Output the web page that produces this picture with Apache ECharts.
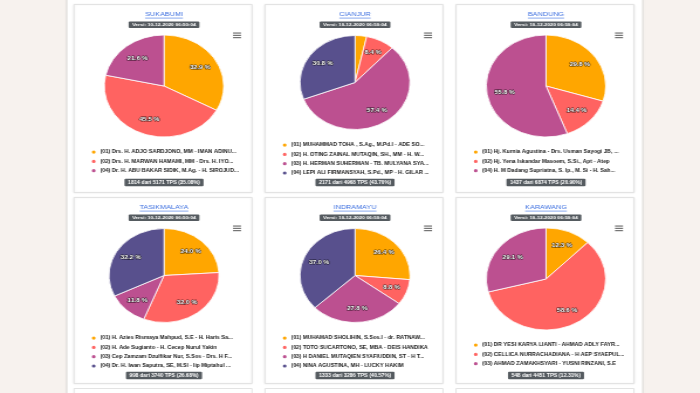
<!DOCTYPE html>
<html><head><meta charset="utf-8">
<script src="https://cdn.jsdelivr.net/npm/echarts@6/dist/echarts.min.js"></script>
<style>
html,body{margin:0;padding:0;background:#f7f2ee;overflow:hidden;width:700px;height:393px}
#c{width:598px;height:393px;transform:scaleX(1.170569);transform-origin:0 0}
</style>
</head><body><div id="c"></div><script>
// ---- data ----
const regionNames = ['SUKABUMI', 'CIANJUR', 'BANDUNG', 'TASIKMALAYA', 'INDRAMAYU', 'KARAWANG'];
const versionLabel = 'Versi: 10-12-2020 06:50:04';

const sukabumiCandidates = [
  '(01) Drs. H. ADJO SARDJONO, MM - IMAN ADINU...',
  '(02) Drs. H. MARWAN HAMAMI, MM - Drs. H. IYO...',
  '(04) Dr. H. ABU BAKAR SIDIK, M.Ag. - H. SIROJUD...'
];
const sukabumiShares = [32.9, 45.5, 21.6];

const cianjurCandidates = [
  '(01) MUHAMMAD TOHA , S.Ag., M.Pd.I - ADE SO...',
  '(02) H. OTING ZAINAL MUTAQIN, SH., MM - H. W...',
  '(03) H. HERMAN SUHERMAN - TB. MULYANA SYA...',
  '(04) LEPI ALI FIRMANSYAH, S.Pd., MP - H. GILAR ...'
];
const cianjurShares = [3.4, 8.4, 57.4, 30.8];

const bandungCandidates = [
  '(01) Hj. Kurnia Agustina - Drs. Usman Sayogi JB, ...',
  '(02) Hj. Yena Iskandar Masoem, S.Si., Apt - Atep',
  '(04) H. M Dadang Supriatna, S. Ip., M. Si - H. Sah...'
];
const bandungShares = [29.8, 14.4, 55.8];

const tasikmalayaCandidates = [
  '(01) H. Azies Rismaya Mahpud, S.E - H. Haris Sa...',
  '(02) H. Ade Sugianto - H. Cecep Nurul Yakin',
  '(03) Cep Zamzam Dzulfikar Nur, S.Sos - Drs. H F...',
  '(04) Dr. H. Iwan Saputra, SE, M.SI - Iip Miptahul ...'
];
const tasikmalayaShares = [24.0, 32.0, 11.8, 32.2];

const indramayuCandidates = [
  '(01) MUHAMAD SHOLIHIN, S.Sos.I - dr. RATNAW...',
  '(02) TOTO SUCARTONO, SE, MBA - DEIS HANDIKA',
  '(03) H DANIEL MUTAQIEN SYAFIUDDIN, ST - H T...',
  '(04) NINA AGUSTINA, MH - LUCKY HAKIM'
];
const indramayuShares = [26.4, 8.8, 27.8, 37.0];

const karawangCandidates = [
  '(01) DR YESI KARYA LIANTI - AHMAD ADLY FAYR...',
  '(02) CELLICA NURRACHADIANA - H AEP SYAEPUL...',
  '(03) AHMAD ZAMAKHSYARI - YUSNI RINZANI, S.E'
];
const karawangShares = [12.3, 58.6, 29.1];

const tpsLabels = [
  '1814 dari 5171 TPS (35.08%)',
  '2171 dari 4968 TPS (43.70%)',
  '1437 dari 6874 TPS (20.90%)',
  '998 dari 3740 TPS (26.68%)',
  '1333 dari 3286 TPS (40.57%)',
  '548 dari 4451 TPS (12.31%)'
];

const palette = ['#ffa600', '#ff6361', '#bc5090', '#58508d'];

// ---- layout ----
const S = 700 / 598;
const X = v => v / S;
const colLefts = [74, 265, 456];
const rowTops = [4, 197];
const rowHeights = [188, 186];
const cardW = 178;
const FONT = '"Liberation Sans", Arial, sans-serif';
const minLabelShare = 5; // very thin slices carry no label

const candidateLists = [sukabumiCandidates, cianjurCandidates, bandungCandidates, tasikmalayaCandidates, indramayuCandidates, karawangCandidates];
const shareLists = [sukabumiShares, cianjurShares, bandungShares, tasikmalayaShares, indramayuShares, karawangShares];

const measureCtx = document.createElement('canvas').getContext('2d');
function textWidth(t, font) { measureCtx.font = font; return measureCtx.measureText(t).width; }

const graphics = [];
// page frame
graphics.push({type: 'rect', shape: {x: X(67), y: 0, width: X(577), height: 393}, style: {fill: '#ffffff'}, z: -10});
graphics.push({type: 'rect', shape: {x: X(65.5), y: 0, width: X(2), height: 393}, style: {fill: '#e6e3e0'}, z: -9});
graphics.push({type: 'rect', shape: {x: X(642), y: 0, width: X(2), height: 393}, style: {fill: '#e6e3e0'}, z: -9});
// third-row card tops
colLefts.forEach(L => {
  graphics.push({type: 'rect', shape: {x: X(L), y: 388.5, width: X(cardW), height: 20}, style: {fill: '#fff', stroke: '#e3e3e3', lineWidth: 1}, z: -8});
});

const legends = [];
const series = [];

regionNames.forEach((name, i) => {
  const col = i % 3, row = Math.floor(i / 3);
  const L = colLefts[col], T = rowTops[row];
  const names = candidateLists[i], vals = shareLists[i];
  const n = names.length;
  const cx = X(L + 90);
  const cy = T + (n === 4 ? 78.5 : 82);

  // card
  graphics.push({type: 'rect', shape: {x: X(L), y: T + 0.5, width: X(cardW), height: rowHeights[row]},
    style: {fill: '#fff', stroke: '#e3e3e3', lineWidth: 1, shadowBlur: 2, shadowColor: 'rgba(0,0,0,0.06)'}, z: -8});
  // title
  const tFont = '6.2px ' + FONT;
  graphics.push({type: 'text', x: cx, y: T + 10.5, style: {text: name, font: tFont, fill: '#3b6ee0', align: 'center', verticalAlign: 'middle'}, z: 5});
  const tw = textWidth(name, tFont);
  graphics.push({type: 'line', shape: {x1: cx - tw / 2, y1: T + 14.1, x2: cx + tw / 2, y2: T + 14.1}, style: {stroke: '#3b6ee0', lineWidth: 0.6}, z: 5});
  // version badge
  graphics.push({type: 'text', x: cx, y: T + 20.8, style: {text: versionLabel, font: 'bold 4.4px ' + FONT, fill: '#fff',
    align: 'center', verticalAlign: 'middle', backgroundColor: '#555b60', padding: [1.4, 3, 1.2, 3], borderRadius: 1}, z: 5});
  // tps badge
  graphics.push({type: 'text', x: cx, y: T + 178.5, style: {text: tpsLabels[i], font: 'bold 4.6px ' + FONT, fill: '#fff',
    align: 'center', verticalAlign: 'middle', backgroundColor: '#555b60', padding: [1.4, 3, 1.2, 3], borderRadius: 1}, z: 5});
  // menu icon
  for (let k = 0; k < 3; k++) {
    graphics.push({type: 'rect', shape: {x: X(L + 159), y: T + 28.5 + k * 2.3, width: X(8), height: 1.1}, style: {fill: '#666'}, z: 5});
  }

  legends.push({
    orient: 'vertical',
    left: X(L + 15.5),
    top: T + (n === 4 ? 137.5 : 144.5),
    padding: 0,
    itemWidth: 5.2, itemHeight: 5.2, itemGap: 2.1,
    icon: 'circle',
    selectedMode: false,
    data: names,
    textStyle: {fontSize: 4.8, fontWeight: 'bold', color: '#222', fontFamily: FONT, lineHeight: 5.2, padding: [0, 0, 0, -2]}
  });

  series.push({
    type: 'pie',
    name: name,
    center: [cx, cy],
    radius: [0, n === 4 ? 47 : 51],
    startAngle: 90,
    clockwise: true,
    silent: true,
    animation: false,
    itemStyle: {borderColor: '#fff', borderWidth: 0.8},
    label: {
      show: true, position: 'inside',
      formatter: p => p.value.toFixed(1) + ' %',
      color: '#fff', fontSize: 5.6, fontWeight: 'bold', fontFamily: FONT,
      textBorderColor: 'rgba(0,0,0,0.75)', textBorderWidth: 1
    },
    // push inside labels out to ~0.63 of the radius, as in the reference
    labelLayout: p => {
      const r = p.labelRect;
      const lx = r.x + r.width / 2, ly = r.y + r.height / 2;
      return {dx: (lx - cx) * 0.26, dy: (ly - cy) * 0.26};
    },
    labelLine: {show: false},
    data: names.map((nm, k) => ({
      name: nm, value: vals[k],
      itemStyle: {color: palette[k]},
      label: {show: vals[k] >= minLabelShare}
    }))
  });
});

const chart = echarts.init(document.getElementById('c'), null, {renderer: 'canvas'});
chart.setOption({
  animation: false,
  backgroundColor: '#f7f2ee',
  color: palette,
  graphic: {elements: graphics},
  legend: legends,
  series: series
});
</script></body></html>
